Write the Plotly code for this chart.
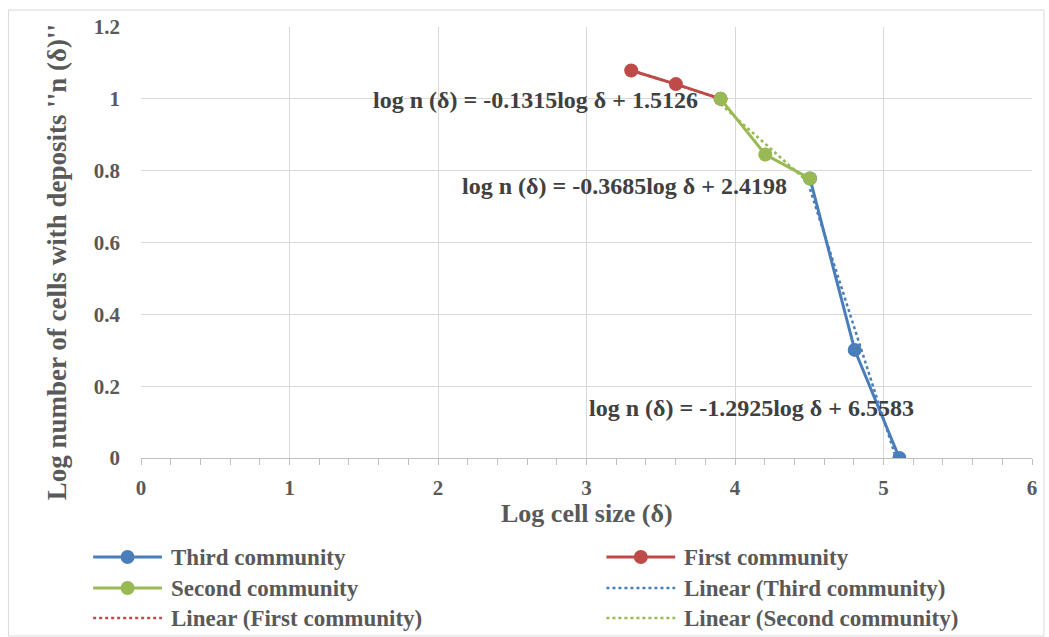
import numpy as np
import plotly.graph_objects as go

# ---- data ----
first_x = [3.301, 3.602, 3.903]
first_y = [1.079, 1.041, 1.000]
second_x = [3.903, 4.204, 4.505]
second_y = [1.000, 0.845, 0.778]
third_x = [4.505, 4.806, 5.107]
third_y = [0.778, 0.301, 0.000]

eq_first = "log n (δ) = -0.1315log δ + 1.5126"
eq_second = "log n (δ) = -0.3685log δ + 2.4198"
eq_third = "log n (δ) = -1.2925log δ + 6.5583"

x_ticks = [0, 1, 2, 3, 4, 5, 6]
y_ticks = [0, 0.2, 0.4, 0.6, 0.8, 1.0, 1.2]
y_tick_text = ["0", "0.2", "0.4", "0.6", "0.8", "1", "1.2"]

BLUE = "#4A7EBB"
RED = "#BE4B48"
GREEN = "#98B954"
TXT = "#595959"
FONT = "Liberation Serif"

W, H = 1049, 637
L, R, T, B = 141, 14, 27, 179
PW, PH = W - L - R, H - T - B


def px(xp):
    return (xp - L) / PW


def py(yp):
    return (H - B - yp) / PH


def trend(xs, ys):
    m, c = np.polyfit(xs, ys, 1)
    xx = np.array([min(xs), max(xs)])
    return xx, m * xx + c


fig = go.Figure()

series = [("Third community", third_x, third_y, BLUE),
          ("First community", first_x, first_y, RED),
          ("Second community", second_x, second_y, GREEN)]

for name, xs, ys, col in series:
    tx, ty = trend(xs, ys)
    fig.add_trace(go.Scatter(x=tx, y=ty, mode="lines", name="Linear (" + name + ")",
                             line=dict(color=col, width=2.5, dash="dot"), showlegend=False))

for name, xs, ys, col in series:
    fig.add_trace(go.Scatter(x=xs, y=ys, mode="lines+markers", name=name,
                             line=dict(color=col, width=3),
                             marker=dict(color=col, size=14), showlegend=False))

annotations = []
for txt, xl, yc in [(eq_first, 1.550, 0.997), (eq_second, 2.148, 0.758), (eq_third, 3.0, 0.139)]:
    annotations.append(dict(x=xl, y=yc, xref="x", yref="y", text="<b>" + txt + "</b>",
                            xanchor="left", yanchor="middle",
                            showarrow=False, font=dict(family=FONT, size=24, color="#404040")))

annotations.append(dict(x=px(57), y=py(262), xref="paper", yref="paper",
                        xanchor="center", yanchor="middle",
                        text="<b>Log number of cells with deposits ''n (δ)''</b>",
                        textangle=-90, showarrow=False,
                        font=dict(family=FONT, size=27, color=TXT)))

annotations.append(dict(x=px(588), y=py(513), xref="paper", yref="paper",
                        xanchor="center", yanchor="middle",
                        text="<b>Log cell size (δ)</b>", showarrow=False,
                        font=dict(family=FONT, size=26, color=TXT)))

shapes = []
legend_items = [
    ("Third community", BLUE, False, 93, 557),
    ("First community", RED, False, 608, 557),
    ("Second community", GREEN, False, 93, 588),
    ("Linear (Third community)", BLUE, True, 608, 588),
    ("Linear (First community)", RED, True, 93, 618),
    ("Linear (Second community)", GREEN, True, 608, 618),
]
for name, col, dotted, x0, yy in legend_items:
    shapes.append(dict(type="line", xref="paper", yref="paper",
                       x0=px(x0), x1=px(x0 + 69), y0=py(yy), y1=py(yy),
                       line=dict(color=col, width=2.5 if dotted else 3,
                                 dash="dot" if dotted else "solid")))
    if not dotted:
        cx = x0 + 34.5
        shapes.append(dict(type="circle", xref="paper", yref="paper",
                           x0=px(cx - 7), x1=px(cx + 7), y0=py(yy + 7), y1=py(yy - 7),
                           fillcolor=col, line=dict(color=col, width=0)))
    annotations.append(dict(x=px(x0 + 76), y=py(yy), xref="paper", yref="paper",
                            xanchor="left", yanchor="middle", showarrow=False,
                            text="<b>" + name + "</b>",
                            font=dict(family=FONT, size=23, color=TXT)))

shapes.append(dict(type="rect", xref="paper", yref="paper",
                   x0=px(8), x1=px(1047), y0=py(10), y1=py(636),
                   line=dict(color="#D9D9D9", width=1), fillcolor="rgba(0,0,0,0)"))

fig.update_layout(
    width=W, height=H,
    margin=dict(l=L, r=R, t=T, b=B),
    paper_bgcolor="white", plot_bgcolor="white",
    showlegend=False,
    annotations=annotations, shapes=shapes,
    xaxis=dict(range=[0, 6], tickvals=x_ticks, ticktext=[str(v) for v in x_ticks],
               showgrid=True, gridcolor="#D9D9D9", gridwidth=1,
               zeroline=False, showline=True, linecolor="#BFBFBF", linewidth=1,
               ticks="outside", ticklen=6, tickcolor="#BFBFBF",
               minor=dict(dtick=0.2, ticks="outside", ticklen=6, tickcolor="#BFBFBF", showgrid=False),
               tickfont=dict(family=FONT, size=21, color=TXT, weight="bold"),
               ticklabelstandoff=5),
    yaxis=dict(range=[0, 1.2], tickvals=y_ticks, ticktext=y_tick_text,
               showgrid=True, gridcolor="#D9D9D9", gridwidth=1,
               zeroline=False, showline=False,
               ticks="", ticklabelstandoff=20,
               tickfont=dict(family=FONT, size=21, color=TXT, weight="bold")),
)

fig.write_html("out.html", config={"displayModeBar": False},
               post_script="document.body.style.margin='0';document.body.style.overflow='hidden';")
